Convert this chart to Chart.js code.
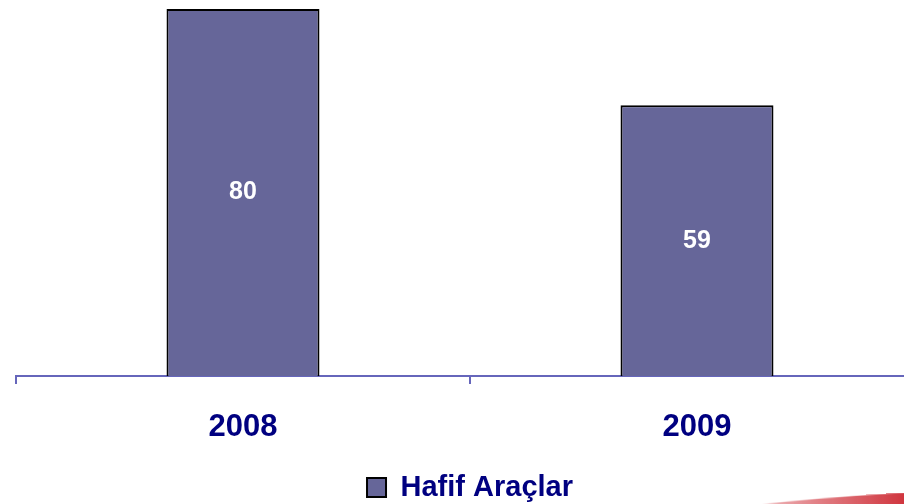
<!DOCTYPE html>
<html>
<head>
<meta charset="utf-8">
<script src="https://cdn.jsdelivr.net/npm/chart.js@4"></script>
<style>
  html, body { margin: 0; padding: 0; background: #fff; overflow: hidden; width: 904px; height: 504px; }
  #wrap { position: absolute; left: 0; top: 0; width: 924px; height: 504px; }
  .swoosh {
    position: absolute; right: -40px; bottom: -7px; width: 250px; height: 14px;
    background: linear-gradient(90deg, rgba(200,20,30,0) 0%, rgba(200,20,30,0.55) 50%, #c8141e 100%);
    border-radius: 100% 0 0 0; transform: rotate(-3deg);
  }
</style>
</head>
<body>
<div id="wrap"><canvas id="chart" width="924" height="504"></canvas></div>
<div class="swoosh"></div>
<script>
const years = ['2008', '2009'];
const lightVehicles = [80, 59];
const seriesName = 'Hafif Araçlar';

// write the value in the middle of each bar
const barValues = {
  id: 'barValues',
  afterDatasetsDraw(chart) {
    const ctx = chart.ctx;
    ctx.save();
    ctx.fillStyle = '#fff';
    ctx.font = 'bold 25px "Liberation Sans", Arial, sans-serif';
    ctx.textAlign = 'center';
    ctx.textBaseline = 'middle';
    chart.getDatasetMeta(0).data.forEach((bar, i) => {
      const mid = (bar.y + bar.base) / 2;
      ctx.fillText(chart.data.datasets[0].data[i], bar.x, mid);
    });
    ctx.restore();
  }
};

const ctx = document.getElementById('chart').getContext('2d');
const chart = new Chart(ctx, {
  type: 'bar',
  data: {
    labels: years,
    datasets: [{
      label: seriesName,
      data: lightVehicles,
      backgroundColor: '#666699',
      borderColor: '#000',
      borderWidth: 2,
      categoryPercentage: 1,
      barPercentage: 0.337
    }]
  },
  options: {
    responsive: false,
    animation: false,
    layout: { padding: { left: 16, top: 9, right: 0, bottom: -8 } },
    plugins: {
      tooltip: { enabled: false },
      legend: {
        position: 'bottom',
        labels: {
          color: '#000080',
          font: { family: '"Liberation Sans", Arial, sans-serif', size: 29, weight: 'bold' },
          boxWidth: 19,
          boxHeight: 19,
          padding: 4
        }
      }
    },
    scales: {
      y: {
        display: false,
        min: 0,
        max: 80
      },
      x: {
        grid: {
          offset: true,
          drawOnChartArea: false,
          drawTicks: true,
          tickLength: 8,
          color: '#6666bb',
          lineWidth: 2
        },
        border: { color: '#6666bb', width: 2 },
        ticks: {
          color: '#000080',
          padding: 25,
          font: { family: '"Liberation Sans", Arial, sans-serif', size: 31, weight: 'bold' }
        },
        afterFit(scale) { scale.height = 93; }
      }
    }
  },
  plugins: [barValues]
});
</script>
</body>
</html>
